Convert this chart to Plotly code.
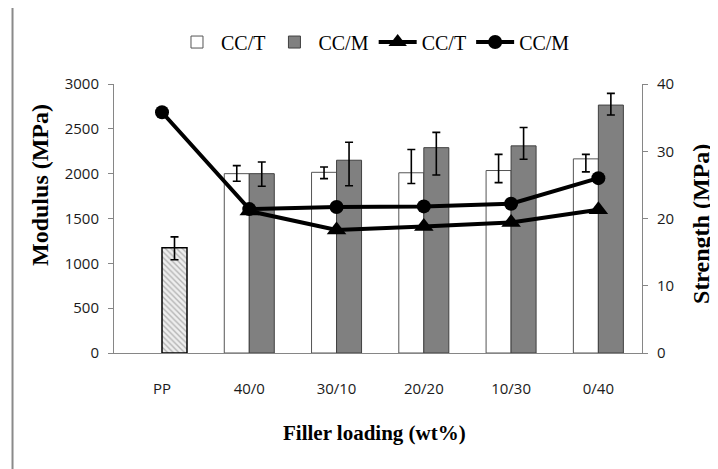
import plotly.graph_objects as go

categories = ["PP", "40/0", "30/10", "20/20", "10/30", "0/40"]
filled = categories[1:]

# Modulus (MPa) - bars
modulus_pp = [1175]
modulus_pp_plus = [120]
modulus_pp_minus = [135]

modulus_cct = [2000, 2015, 2010, 2035, 2165]
modulus_cct_plus = [90, 60, 260, 180, 50]
modulus_cct_minus = [85, 70, 120, 135, 145]

modulus_ccm = [2000, 2150, 2290, 2310, 2765]
modulus_ccm_plus = [130, 200, 170, 205, 130]
modulus_ccm_minus = [140, 285, 305, 150, 110]

# Strength (MPa) - lines
strength_cct = [None, 21.1, 18.3, 18.8, 19.4, 21.3]
strength_ccm = [35.8, 21.4, 21.7, 21.8, 22.2, 26.0]

BW = 0.2865
serif = "Liberation Serif, Times New Roman, serif"
sans = "Open Sans, Noto Sans, sans-serif"
axis_gray = "#868686"

fig = go.Figure()

fig.add_trace(go.Bar(
    x=filled, y=modulus_cct, name="CC/T", width=BW, offset=-BW,
    marker=dict(color="white", line=dict(color="#555555", width=1)),
    error_y=dict(type="data", array=modulus_cct_plus, arrayminus=modulus_cct_minus,
                 color="black", thickness=1.6, width=4),
))
fig.add_trace(go.Bar(
    x=filled, y=modulus_ccm, name="CC/M", width=BW, offset=0,
    marker=dict(color="#808080", line=dict(color="#404040", width=1)),
    error_y=dict(type="data", array=modulus_ccm_plus, arrayminus=modulus_ccm_minus,
                 color="black", thickness=1.6, width=4),
))
fig.add_trace(go.Bar(
    x=["PP"], y=modulus_pp, name="PP", width=BW, offset=0, showlegend=False,
    marker=dict(color="#e6e6e6", line=dict(color="black", width=1.5),
                pattern=dict(shape="\\", fgcolor="#7a7a7a", bgcolor="#eeeeee",
                             size=4, solidity=0.35, fillmode="overlay")),
    error_y=dict(type="data", array=modulus_pp_plus, arrayminus=modulus_pp_minus,
                 color="black", thickness=1.6, width=4),
))
fig.add_trace(go.Scatter(
    x=categories, y=strength_cct, name="CC/T", yaxis="y2", mode="lines+markers",
    line=dict(color="black", width=4),
    marker=dict(symbol="triangle-up", size=17, color="black"),
))
fig.add_trace(go.Scatter(
    x=categories, y=strength_ccm, name="CC/M", yaxis="y2", mode="lines+markers",
    line=dict(color="black", width=4),
    marker=dict(symbol="circle", size=14, color="black"),
))

fig.update_layout(
    width=710, height=461,
    margin=dict(l=106, r=76, t=76, b=116),
    paper_bgcolor="white", plot_bgcolor="white",
    barmode="overlay",
    showlegend=True,
    legend=dict(orientation="h", x=0.4924, y=1.156, xanchor="center", yanchor="middle",
                font=dict(family=serif, size=20, color="black"), itemwidth=38,
                bgcolor="rgba(0,0,0,0)", traceorder="normal"),
    xaxis=dict(type="category", categoryorder="array", categoryarray=categories,
               range=[-0.55, 5.5], showline=True, linecolor=axis_gray, linewidth=1,
               ticks="", showgrid=False, ticklabelstandoff=22,
               tickfont=dict(family=sans, size=15, color="#1a1a1a")),
    yaxis=dict(range=[0, 3000], dtick=500, showline=True, linecolor=axis_gray, linewidth=1,
               ticks="outside", ticklen=5, tickcolor=axis_gray, showgrid=False, zeroline=False,
               ticklabelstandoff=6,
               tickfont=dict(family=sans, size=15, color="#1a1a1a")),
    yaxis2=dict(range=[0, 40], dtick=10, overlaying="y", side="right", showline=True,
                linecolor=axis_gray, linewidth=1, ticks="outside", ticklen=5, tickcolor=axis_gray,
                showgrid=False, zeroline=False, ticklabelstandoff=6,
                tickfont=dict(family=sans, size=15, color="#1a1a1a")),
    annotations=[
        dict(text="<b>Modulus (MPa)</b>", x=-0.1402, y=0.6245, xref="paper", yref="paper",
             showarrow=False, textangle=-90, xanchor="center", yanchor="middle",
             font=dict(family=serif, size=24, color="black")),
        dict(text="<b>Strength (MPa)</b>", x=1.1117, y=0.4796, xref="paper", yref="paper",
             showarrow=False, textangle=-90, xanchor="center", yanchor="middle",
             font=dict(family=serif, size=24, color="black")),
        dict(text="<b>Filler loading (wt%)</b>", x=0.4934, y=-0.2974, xref="paper", yref="paper",
             showarrow=False, xanchor="center", yanchor="middle",
             font=dict(family=serif, size=21, color="black")),
    ],
    shapes=[
        dict(type="rect", xref="paper", yref="paper", x0=-0.1922, y0=-0.6, x1=1.3, y1=1.2874,
             line=dict(color="#8a8a8a", width=2), fillcolor="rgba(0,0,0,0)", layer="below"),
    ],
)

fig.write_html("out.html")
